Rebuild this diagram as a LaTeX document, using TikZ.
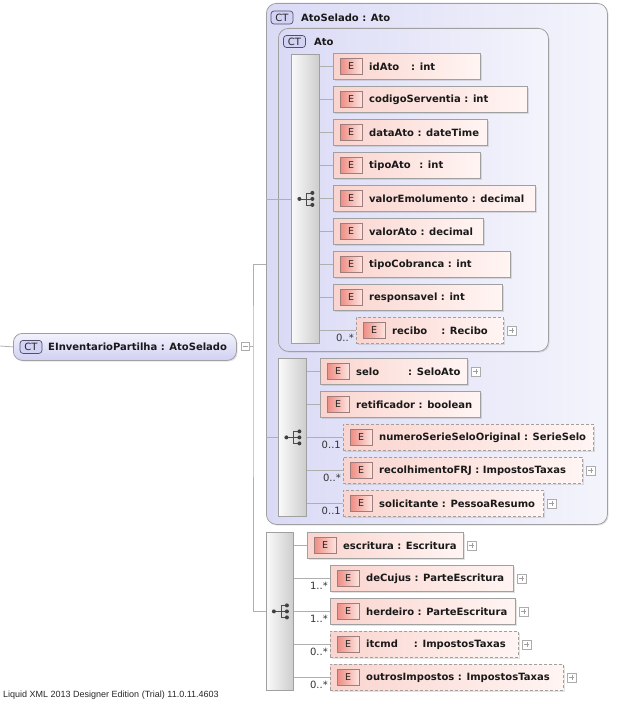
\documentclass[tikz,border=0pt]{standalone}
\usepackage{fontspec}
\setmainfont{DejaVu Sans}
\newfontfamily\footfont{Liberation Sans}
\usetikzlibrary{shadows}

\definecolor{linegray}{RGB}{175,175,175}
\definecolor{boxgray}{RGB}{160,160,160}
\definecolor{lavL}{RGB}{218,218,246}
\definecolor{lavR}{RGB}{244,244,252}
\definecolor{pinkL}{RGB}{250,212,206}
\definecolor{pinkR}{RGB}{255,245,243}
\definecolor{badgeL}{RGB}{238,140,130}
\definecolor{badgeR}{RGB}{253,228,224}
\definecolor{badgeB}{RGB}{160,125,125}
\definecolor{ctfill}{RGB}{210,210,244}
\definecolor{ctborder}{RGB}{80,80,105}
\definecolor{seqL}{RGB}{250,250,250}
\definecolor{seqR}{RGB}{205,205,205}
\definecolor{rootT}{RGB}{242,242,253}
\definecolor{rootB}{RGB}{208,208,242}

\tikzset{
  conn/.style={draw=linegray, line width=0.8pt},
  shad/.style={drop shadow={shadow xshift=1.2pt, shadow yshift=-1.2pt, opacity=0.22}},
  container/.style={draw=boxgray, rounded corners=10pt, left color=lavL, right color=lavR, line width=0.8pt, inner sep=0pt, shad},
  rootbox/.style={draw=boxgray, rounded corners=9pt, top color=rootT, bottom color=rootB, line width=0.8pt, inner sep=0pt, shad},
  elem/.style={draw=boxgray, left color=pinkL, right color=pinkR, minimum height=26pt, inner sep=0pt, line width=0.8pt, shad},
  opt/.style={dash pattern=on 3pt off 2pt},
  ebadge/.style={draw=badgeB, left color=badgeL, right color=badgeR, minimum width=22pt, minimum height=16pt, inner sep=0pt, font=\fontsize{9.5}{10}\selectfont, text=black!85},
  etext/.style={inner sep=0pt, font=\bfseries\fontsize{10}{12}\selectfont, text=black!90},
  ctbadge/.style={draw=ctborder, fill=ctfill, rounded corners=3pt, minimum width=22pt, minimum height=13pt, inner sep=0pt, line width=0.7pt, font=\fontsize{10}{10}\selectfont, text=black!85},
  cardlbl/.style={inner sep=0pt, font=\fontsize{10}{10}\selectfont, text=black!80},
  seqbox/.style={draw=boxgray, left color=seqL, right color=seqR, inner sep=0pt, line width=0.8pt, anchor=north west},
  plusbox/.style={draw=gray!65, fill=white, minimum size=9pt, inner sep=0pt, line width=0.6pt,
    path picture={\draw[gray!75, line width=0.6pt]
      ([xshift=-2.5pt]path picture bounding box.center) -- ([xshift=2.5pt]path picture bounding box.center)
      ([yshift=-2.5pt]path picture bounding box.center) -- ([yshift=2.5pt]path picture bounding box.center);}},
  minusbox/.style={draw=gray!65, fill=white, minimum size=9pt, inner sep=0pt, line width=0.6pt,
    path picture={\draw[gray!75, line width=0.6pt]
      ([xshift=-2.5pt]path picture bounding box.center) -- ([xshift=2.5pt]path picture bounding box.center);}},
  seqicon/.pic={
    \draw[black!70, line width=0.7pt] (-6,0) -- (1,0) (1,-6) -- (1,6)
      (1,-6) -- (7,-6) (1,0) -- (7,0) (1,6) -- (7,6);
    \fill[black!75] (-6,0) circle (2pt) (7,-6) circle (2pt) (7,0) circle (2pt) (7,6) circle (2pt);
  }
}

% element: name, x, top y, width, extra style, text
\newcommand{\elm}[6]{%
  \node[elem,#5,minimum width=#4pt,anchor=north west] (#1) at (#2,#3) {};
  \node[ebadge] (#1-b) at ([xshift=18pt]#1.west) {E};
  \node[etext,anchor=west] (#1-t) at ([xshift=36pt]#1.west) {#6};}
\newcommand{\plusof}[1]{\node[plusbox] (#1-p) at ([xshift=8pt]#1.east) {};}
\newcommand{\cardof}[2]{\node[cardlbl,anchor=north east] (#1-c) at ([xshift=-2pt,yshift=-3.5pt]#1.west) {#2};}

\begin{document}
\begin{tikzpicture}[x=1pt,y=-1pt]
\useasboundingbox (0,0) rectangle (620,701);

% ---------- root ----------
\node[rootbox, minimum width=223pt, minimum height=27pt, anchor=north west] (root) at (13,333) {};
\node[ctbadge] (root-ct) at ([xshift=18pt]root.west) {CT};
\node[etext, anchor=west] (root-t) at ([xshift=35pt]root.west) {EInventarioPartilha : AtoSelado};
\node[minusbox, minimum size=8pt] (minus) at (245,346) {};
\coordinate (lstart) at (0,346);
\coordinate (bus) at (253,346);
\draw[conn] (lstart) -- (root.west);
\draw[conn] (minus.east) -- (bus);

% ---------- AtoSelado container ----------
\node[container, minimum width=341pt, minimum height=521pt, anchor=north west] (AtoSelado) at (266,3) {};
\node[ctbadge] (AtoSelado-ct) at (282,17.5) {CT};
\node[etext, anchor=west] (AtoSelado-t) at (301,17.5) {AtoSelado : Ato};

% ---------- Ato container ----------
\node[container, minimum width=270pt, minimum height=323pt, anchor=north west] (Ato) at (278,28) {};
\node[ctbadge, minimum height=12pt] (Ato-ct) at (294.5,41.5) {CT};
\node[etext, anchor=west] (Ato-t) at (314,41.5) {Ato};

% sequence A
\node[seqbox, minimum width=28pt, minimum height=289pt] (seqA) at (291,54) {};
\pic at (seqA.center) {seqicon};

\elm{idAto}{333}{53}{147}{}{idAto\hspace{12pt}: int}
\elm{codigoServentia}{333}{86}{194}{}{codigoServentia : int}
\elm{dataAto}{333}{119}{154}{}{dataAto : dateTime}
\elm{tipoAto}{333}{152}{147}{}{tipoAto\hspace{8.5pt}: int}
\elm{valorEmolumento}{333}{185}{202}{}{valorEmolumento : decimal}
\elm{valorAto}{333}{218}{150}{}{valorAto : decimal}
\elm{tipoCobranca}{333}{251}{177}{}{tipoCobranca : int}
\elm{responsavel}{333}{284}{169}{}{responsavel : int}
\elm{recibo}{356}{317}{147}{opt}{recibo\hspace{14pt}: Recibo}
\plusof{recibo}
\cardof{recibo}{0..*}

\foreach \n in {idAto,codigoServentia,dataAto,tipoAto,valorEmolumento,valorAto,tipoCobranca,responsavel,recibo}
  \draw[conn] (seqA.east |- \n.west) -- (\n.west);

% sequence B
\node[seqbox, minimum width=28pt, minimum height=158pt] (seqB) at (278,358) {};
\pic at (seqB.center) {seqicon};

\elm{selo}{320}{358}{147}{}{selo\hspace{29pt}: SeloAto}
\plusof{selo}
\elm{retificador}{320}{391}{160}{}{retificador : boolean}
\elm{numeroSerie}{343}{424}{250}{opt}{numeroSerieSeloOriginal : SerieSelo}
\cardof{numeroSerie}{0..1}
\elm{recolhimento}{343}{457}{239}{opt}{recolhimentoFRJ : ImpostosTaxas}
\plusof{recolhimento}
\cardof{recolhimento}{0..*}
\elm{solicitante}{343}{490}{200}{opt}{solicitante : PessoaResumo}
\plusof{solicitante}
\cardof{solicitante}{0..1}

\foreach \n in {selo,retificador,numeroSerie,recolhimento,solicitante}
  \draw[conn] (seqB.east |- \n.west) -- (\n.west);

\draw[conn] (AtoSelado.west |- seqA.west) -- (seqA.west);
\draw[conn] (AtoSelado.west |- seqB.west) -- (seqB.west);

% sequence C
\node[seqbox, minimum width=27pt, minimum height=158pt] (seqC) at (266,532) {};
\pic at (seqC.center) {seqicon};

\elm{escritura}{307}{532}{156}{}{escritura : Escritura}
\plusof{escritura}
\elm{deCujus}{330}{565}{183}{}{deCujus : ParteEscritura}
\plusof{deCujus}
\cardof{deCujus}{1..*}
\elm{herdeiro}{330}{598}{185}{}{herdeiro : ParteEscritura}
\plusof{herdeiro}
\cardof{herdeiro}{1..*}
\elm{itcmd}{330}{631}{188}{opt}{itcmd\hspace{16pt}: ImpostosTaxas}
\plusof{itcmd}
\cardof{itcmd}{0..*}
\elm{outrosImpostos}{330}{664}{233}{opt}{outrosImpostos : ImpostosTaxas}
\plusof{outrosImpostos}
\cardof{outrosImpostos}{0..*}

\foreach \n in {escritura,deCujus,herdeiro,itcmd,outrosImpostos}
  \draw[conn] (seqC.east |- \n.west) -- (\n.west);

% bus
\draw[conn] (AtoSelado.west) -| (bus) |- (seqC.west);

% footer
\node[inner sep=0pt, anchor=west, font=\footfont\fontsize{9}{10}\selectfont, text=black!85] (footer) at (3,695) {Liquid XML 2013 Designer Edition (Trial) 11.0.11.4603};
\end{tikzpicture}
\end{document}
